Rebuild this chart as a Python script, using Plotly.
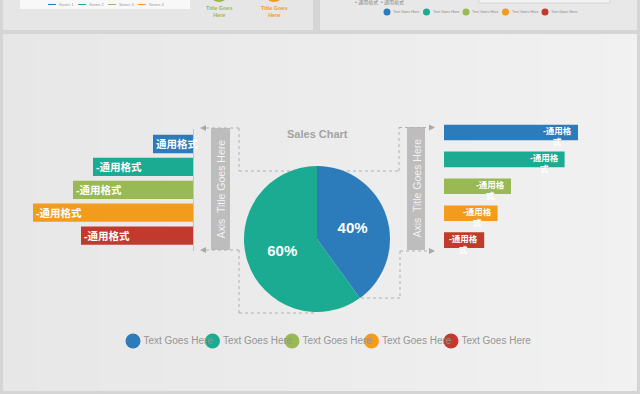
import plotly.graph_objects as go

W, H = 640, 394

# ---------------- data ----------------
colors = ["#2c7bba", "#1aab92", "#98b954", "#f29b1c", "#c23a2e"]
left_values = [20, 50, 60, 80, 56]
left_labels = ["通用格式", "-通用格式", "-通用格式", "-通用格式", "-通用格式"]
right_values = [100, 90, 50, 40, 30]
right_labels = ["-通用格<br>式"] * 5
pie_labels = ["A", "B"]
pie_values = [40, 60]
legend_names = ["Text Goes Here"] * 5
chart_title = "Sales Chart"
axis_title = "Axis  Title Goes Here"

FONT = "Liberation Sans, Arial, Noto Sans CJK SC, sans-serif"


def px(x):
    return x / W


def py(y):
    return 1 - y / H


fig = go.Figure()

# ---------- left bars (x2/y2) ----------
fig.add_trace(go.Bar(
    x=left_values, y=list(range(len(left_values))), orientation="h",
    marker=dict(color=colors, line=dict(width=0)), width=0.8,
    text=left_labels, textposition="inside", insidetextanchor="end",
    textangle=0, constraintext="none", cliponaxis=False,
    textfont=dict(color="white", size=10.5, family=FONT, weight="bold"),
    xaxis="x2", yaxis="y2", hoverinfo="skip", showlegend=False,
))

# ---------- right bars (x3/y3) ----------
fig.add_trace(go.Bar(
    x=right_values, y=list(range(len(right_values))), orientation="h",
    marker=dict(color=colors, line=dict(width=0)), width=0.58,
    xaxis="x3", yaxis="y3", hoverinfo="skip", showlegend=False,
))

# ---------- pie ----------
fig.add_trace(go.Pie(
    labels=pie_labels, values=pie_values, sort=False, direction="clockwise",
    rotation=0, marker=dict(colors=colors[:2], line=dict(width=0)),
    textinfo="percent", textposition="inside",
    textfont=dict(color="white", size=15, family=FONT, weight="bold"),
    insidetextorientation="horizontal",
    domain=dict(x=[px(244), px(390)], y=[py(312), py(166)]),
    hoverinfo="skip", showlegend=False,
))

# ---------- custom legend (x/y) ----------
fig.add_trace(go.Scatter(
    x=list(range(len(legend_names))), y=[0] * len(legend_names),
    mode="markers+text", text=legend_names, textposition="middle right",
    marker=dict(color=colors, size=15, line=dict(width=0)),
    textfont=dict(color="#959595", size=10, family=FONT),
    cliponaxis=False, hoverinfo="skip", showlegend=False,
))

# axis ranges (all axes span the full figure)
lx0, lk = 193, 2.0          # left bars: px = 193 - 2*v
ly0, lstep = 144, 22.9
rx0, rk = 444, 1.34         # right bars: px = 444 + 1.34*v
ry0, rstep = 132.5, 26.9
gx0, gstep = 133, 79.5      # legend

hidden = dict(visible=False, fixedrange=True, domain=[0, 1])
fig.update_layout(
    width=W, height=H, margin=dict(l=0, r=0, t=0, b=0),
    paper_bgcolor="#d5d5d5", plot_bgcolor="rgba(0,0,0,0)",
    xaxis=dict(hidden, range=[-gx0 / gstep, (W - gx0) / gstep]),
    yaxis=dict(hidden, range=[-(H - 341), 341]),
    xaxis2=dict(hidden, anchor="y2", range=[lx0 / lk, (lx0 - W) / lk]),
    yaxis2=dict(hidden, anchor="x2", range=[(H - ly0) / lstep, -ly0 / lstep]),
    xaxis3=dict(hidden, anchor="y3", range=[-rx0 / rk, (W - rx0) / rk]),
    yaxis3=dict(hidden, anchor="x3", range=[(H - ry0) / rstep, -ry0 / rstep]),
    hovermode=False, showlegend=False,
)

shapes = []
annots = []


def rect(x0, y0, x1, y1, color, layer="below", line=None):
    shapes.append(dict(type="rect", xref="paper", yref="paper",
                       x0=px(x0), x1=px(x1), y0=py(y1), y1=py(y0),
                       fillcolor=color, line=line or dict(width=0), layer=layer))


def dline(x0, y0, x1, y1, color="#b0b0b0", dash="dot", width=1, layer="below"):
    shapes.append(dict(type="line", xref="paper", yref="paper",
                       x0=px(x0), x1=px(x1), y0=py(y0), y1=py(y1),
                       line=dict(color=color, width=width, dash=dash), layer=layer))


def text(x, y, s, size, color, bold=False, angle=0, xanchor="center", family=FONT):
    annots.append(dict(xref="paper", yref="paper", x=px(x), y=py(y), text=s,
                       showarrow=False, xanchor=xanchor, yanchor="middle",
                       textangle=angle,
                       font=dict(size=size, color=color, family=family,
                                 weight="bold" if bold else "normal")))


def arrow(xh, yh, dx):
    annots.append(dict(xref="paper", yref="paper", x=px(xh), y=py(yh), text="",
                       showarrow=True, ax=dx, ay=0, arrowhead=2, arrowsize=1.2,
                       arrowwidth=1, arrowcolor="#a8a8a8", standoff=0))


# ---------- background panels (subtle left-to-right gradient) ----------
n_strips = 20
x_start, x_end = 3, 637
for k in range(n_strips):
    a = x_start + (x_end - x_start) * k / n_strips
    b = x_start + (x_end - x_start) * (k + 1) / n_strips + 0.6
    g = int(round(0xe7 + (0xf1 - 0xe7) * k / (n_strips - 1)))
    rect(a, 34, min(b, x_end), 391, "#%02x%02x%02x" % (g, g, g))
rect(3, -2, 313, 30, "#e6e6e6")
rect(320, -2, 637, 30, "#e8e8e8")
rect(20, -2, 190, 9, "#f8f8f8")

# top-left strip content
for i, (c, name) in enumerate(zip(["#2c7bba", "#1aab92", "#98b954", "#f29b1c"],
                                   ["Series 1", "Series 2", "Series 3", "Series 4"])):
    x = 48 + i * 30
    dline(x, 4.5, x + 8, 4.5, color=c, dash="solid", width=1, layer="above")
    text(x + 9, 4.5, name, 4, "#9a9a9a", xanchor="left")
shapes.append(dict(type="circle", xref="paper", yref="paper", x0=px(209), x1=px(229),
                   y0=py(2), y1=py(-18), fillcolor="#98b954", line=dict(width=0), layer="below"))
shapes.append(dict(type="circle", xref="paper", yref="paper", x0=px(264), x1=px(284),
                   y0=py(2), y1=py(-18), fillcolor="#f29b1c", line=dict(width=0), layer="below"))
text(219, 11, "Title Goes<br>Here", 5.5, "#98b954", bold=True)
text(274, 11, "Title Goes<br>Here", 5.5, "#f29b1c", bold=True)

# top-right strip content
text(353, 2, "• 通用格式  • 通用格式", 5, "#8a8a8a", xanchor="left")
rect(479, -2, 610, 3, "#f2f2f2", line=dict(color="#c8c8c8", width=0.6))
for i, c in enumerate(colors):
    x = 387 + i * 39.5
    shapes.append(dict(type="circle", xref="paper", yref="paper",
                       x0=px(x - 3.5), x1=px(x + 3.5), y0=py(15.5), y1=py(8.5),
                       fillcolor=c, line=dict(width=0), layer="below"))
    text(x + 4, 12, "Text Goes Here", 3.8, "#8a8a8a", xanchor="left")

# ---------- axis line of left bars ----------
dline(193.5, 129, 193.5, 251, color="#c4c4c4", dash="solid", width=1)

# ---------- gray axis-title boxes ----------
rect(211, 128, 230, 250, "#bdbdbd")
rect(407, 127, 425, 250, "#bdbdbd")
text(220.5, 189, axis_title, 10.5, "#f2f2f2", angle=-90)
text(416, 188.5, axis_title, 10.5, "#f2f2f2", angle=-90)

# ---------- dotted connectors ----------
dline(239, 128, 204, 128)
dline(239, 128, 239, 171)
dline(239, 171, 399, 171)
dline(399, 171, 399, 127.5)
dline(399, 127.5, 430, 127.5)
dline(239, 250, 204, 250)
dline(239, 250, 239, 313)
dline(239, 313, 317, 313)
dline(400, 251, 430, 251)
dline(400, 251, 400, 298)
dline(400, 298, 355, 298)
arrow(200, 128, 6)
arrow(200, 250, 6)
arrow(435, 127.5, -6)
arrow(435, 251, -6)

# ---------- title ----------
text(317, 134, chart_title, 11, "#a3a3a3", bold=True)

# ---------- right bar labels ----------
for i, (v, lab) in enumerate(zip(right_values, right_labels)):
    annots.append(dict(xref="x3", yref="y3", x=v, y=i, text=lab, showarrow=False,
                       xanchor="right", yanchor="middle", xshift=-4, yshift=-4,
                       align="center",
                       font=dict(size=8.5, color="white", family=FONT, weight="bold")))

fig.update_layout(shapes=shapes, annotations=annots)
fig.write_html(
    "out.html",
    config={"displayModeBar": False, "staticPlot": True},
    post_script="document.body.style.margin='0';document.body.style.padding='0';"
                "document.body.style.overflow='hidden';",
)
